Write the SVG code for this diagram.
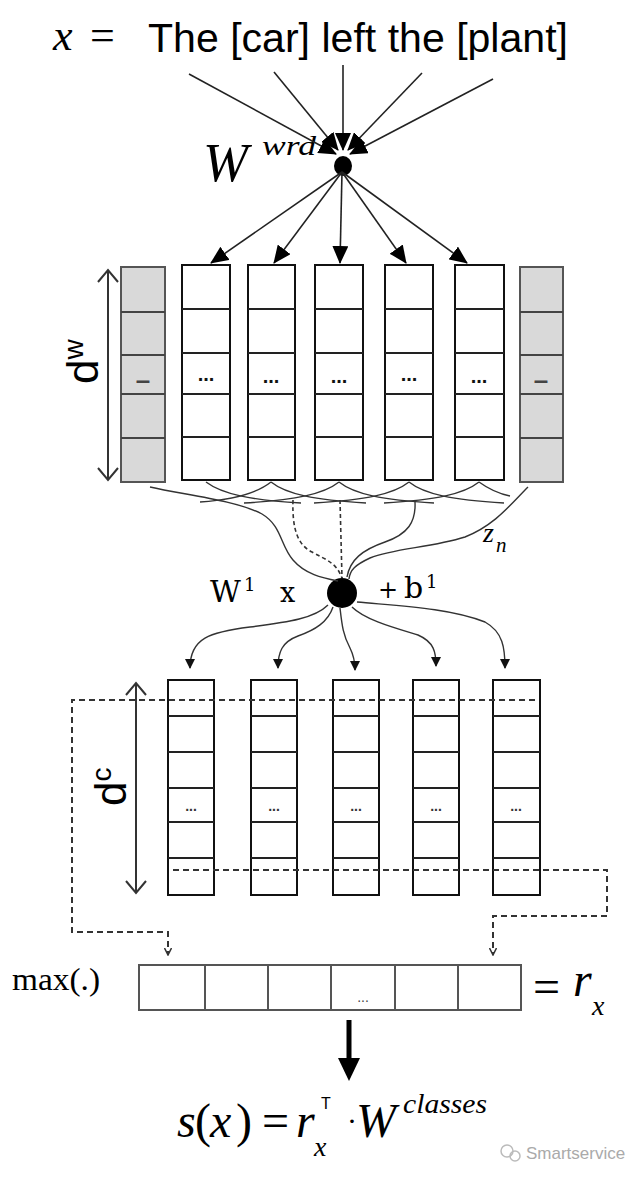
<svg xmlns="http://www.w3.org/2000/svg" width="640" height="1179" viewBox="0 0 640 1179">
<style>
.cw{fill:#fff;stroke:#111;stroke-width:2}
.cg{fill:#d9d9d9;stroke:#555;stroke-width:2}
.rl{stroke:#222;stroke-width:2}
.rg{stroke:#444;stroke-width:2}
.ln{fill:none;stroke:#222;stroke-width:1.6}
.cv{fill:none;stroke:#333;stroke-width:1.4}
.dsh{fill:none;stroke:#333;stroke-width:1.6;stroke-dasharray:4 3}
.dl{fill:none;stroke:#333;stroke-width:2;stroke-dasharray:6 4}
.serif{font-family:"Liberation Serif","Times New Roman",serif}
.sans{font-family:"Liberation Sans",Arial,sans-serif}
.dj{font-family:"DejaVu Serif","Liberation Serif",serif}
.dots{font-family:"Liberation Sans",Arial,sans-serif;font-weight:bold;font-size:20px;text-anchor:middle;fill:#111}
.dash{font-family:"Liberation Sans",Arial,sans-serif;font-weight:bold;font-size:26px;text-anchor:middle;fill:#444}
.dots2{font-family:"Liberation Sans",Arial,sans-serif;font-weight:bold;font-size:14px;text-anchor:middle;fill:#333}
</style>
<defs>
<marker id="big" markerUnits="userSpaceOnUse" markerWidth="18" markerHeight="16" refX="17" refY="8" orient="auto"><path d="M0,0 L18,8 L0,16 Z" fill="#000"/></marker>
<marker id="sm" markerUnits="userSpaceOnUse" markerWidth="10" markerHeight="10" refX="9" refY="5" orient="auto"><path d="M0,0 L10,5 L0,10 Z" fill="#111"/></marker>
<marker id="tiny" markerUnits="userSpaceOnUse" markerWidth="8" markerHeight="8" refX="7" refY="4" orient="auto"><path d="M0,0.5 L7,4 L0,7.5" fill="none" stroke="#333" stroke-width="1.5"/></marker>
</defs>
<rect width="640" height="1179" fill="#fff"/>

<g id="sentence">
<text x="53" y="50" class="serif" font-style="italic" font-size="44">x</text>
<text x="90" y="50" class="serif" font-size="44">=</text>
<text x="148" y="52" class="sans" font-size="40" textLength="420" lengthAdjust="spacingAndGlyphs">The [car] left the [plant]</text>
</g>

<g id="wwrd">
<ellipse cx="343" cy="166" rx="9" ry="10" fill="#000"/>
<text x="203" y="181" class="serif" font-style="italic" font-size="54">W</text>
<text x="262" y="155" class="serif" font-style="italic" font-size="28" textLength="54" lengthAdjust="spacingAndGlyphs">wrd</text>
</g>

<g id="col0">
<rect class="cg" x="121" y="267" width="44" height="215"/>
<line class="rg" x1="121" y1="312" x2="165" y2="312"/><line class="rg" x1="121" y1="355" x2="165" y2="355"/><line class="rg" x1="121" y1="394" x2="165" y2="394"/><line class="rg" x1="121" y1="438" x2="165" y2="438"/>
<text x="143" y="389" class="dash">–</text>
</g>
<g id="col1">
<rect class="cw" x="182" y="265" width="48" height="215"/>
<line class="rl" x1="182" y1="309" x2="230" y2="309"/><line class="rl" x1="182" y1="353" x2="230" y2="353"/><line class="rl" x1="182" y1="394" x2="230" y2="394"/><line class="rl" x1="182" y1="437" x2="230" y2="437"/>
<text x="206" y="381" class="dots">...</text>
</g>
<g id="col2">
<rect class="cw" x="248" y="265" width="47" height="215"/>
<line class="rl" x1="248" y1="309" x2="295" y2="309"/><line class="rl" x1="248" y1="353" x2="295" y2="353"/><line class="rl" x1="248" y1="394" x2="295" y2="394"/><line class="rl" x1="248" y1="437" x2="295" y2="437"/>
<text x="271" y="383" class="dots">...</text>
</g>
<g id="col3">
<rect class="cw" x="315" y="265" width="48" height="215"/>
<line class="rl" x1="315" y1="309" x2="363" y2="309"/><line class="rl" x1="315" y1="353" x2="363" y2="353"/><line class="rl" x1="315" y1="394" x2="363" y2="394"/><line class="rl" x1="315" y1="437" x2="363" y2="437"/>
<text x="339" y="383" class="dots">...</text>
</g>
<g id="col4">
<rect class="cw" x="385" y="265" width="48" height="215"/>
<line class="rl" x1="385" y1="309" x2="433" y2="309"/><line class="rl" x1="385" y1="353" x2="433" y2="353"/><line class="rl" x1="385" y1="394" x2="433" y2="394"/><line class="rl" x1="385" y1="437" x2="433" y2="437"/>
<text x="409" y="381" class="dots">...</text>
</g>
<g id="col5">
<rect class="cw" x="455" y="265" width="49" height="215"/>
<line class="rl" x1="455" y1="309" x2="504" y2="309"/><line class="rl" x1="455" y1="353" x2="504" y2="353"/><line class="rl" x1="455" y1="394" x2="504" y2="394"/><line class="rl" x1="455" y1="437" x2="504" y2="437"/>
<text x="479" y="383" class="dots">...</text>
</g>
<g id="col6">
<rect class="cg" x="520" y="267" width="43" height="215"/>
<line class="rg" x1="520" y1="312" x2="563" y2="312"/><line class="rg" x1="520" y1="355" x2="563" y2="355"/><line class="rg" x1="520" y1="394" x2="563" y2="394"/><line class="rg" x1="520" y1="438" x2="563" y2="438"/>
<text x="541" y="389" class="dash">–</text>
</g>

<g id="dw-label">
<text transform="translate(98,384) rotate(-90)" class="sans" font-size="44">d<tspan dy="-15" font-size="28">w</tspan></text>
</g>

<g id="zn-label">
<text x="483" y="542" class="serif" font-style="italic" font-size="28">z</text>
<text x="496" y="552" class="serif" font-style="italic" font-size="21">n</text>
</g>

<g id="conv-node">
<circle cx="342" cy="593" r="15" fill="#000"/>
<text x="210" y="602" class="dj" font-size="30">W</text>
<text x="244" y="591" class="dj" font-size="18">1</text>
<text x="280" y="602" class="dj" font-size="27">x</text>
<text x="378" y="598" class="dj" font-size="24">+</text>
<text x="404" y="598" class="dj" font-size="30">b</text>
<text x="426" y="588" class="dj" font-size="18">1</text>
</g>

<g id="conv1">
<rect class="cw" x="168" y="680" width="46" height="215"/>
<line class="rl" x1="168" y1="716" x2="214" y2="716"/><line class="rl" x1="168" y1="752" x2="214" y2="752"/><line class="rl" x1="168" y1="788" x2="214" y2="788"/><line class="rl" x1="168" y1="822" x2="214" y2="822"/><line class="rl" x1="168" y1="858" x2="214" y2="858"/>
<text x="191" y="811" class="dots2">...</text>
</g>
<g id="conv2">
<rect class="cw" x="251" y="680" width="46" height="215"/>
<line class="rl" x1="251" y1="716" x2="297" y2="716"/><line class="rl" x1="251" y1="752" x2="297" y2="752"/><line class="rl" x1="251" y1="788" x2="297" y2="788"/><line class="rl" x1="251" y1="822" x2="297" y2="822"/><line class="rl" x1="251" y1="858" x2="297" y2="858"/>
<text x="274" y="811" class="dots2">...</text>
</g>
<g id="conv3">
<rect class="cw" x="333" y="680" width="46" height="215"/>
<line class="rl" x1="333" y1="716" x2="379" y2="716"/><line class="rl" x1="333" y1="752" x2="379" y2="752"/><line class="rl" x1="333" y1="788" x2="379" y2="788"/><line class="rl" x1="333" y1="822" x2="379" y2="822"/><line class="rl" x1="333" y1="858" x2="379" y2="858"/>
<text x="356" y="811" class="dots2">...</text>
</g>
<g id="conv4">
<rect class="cw" x="413" y="680" width="46" height="215"/>
<line class="rl" x1="413" y1="716" x2="459" y2="716"/><line class="rl" x1="413" y1="752" x2="459" y2="752"/><line class="rl" x1="413" y1="788" x2="459" y2="788"/><line class="rl" x1="413" y1="822" x2="459" y2="822"/><line class="rl" x1="413" y1="858" x2="459" y2="858"/>
<text x="436" y="811" class="dots2">...</text>
</g>
<g id="conv5">
<rect class="cw" x="493" y="680" width="47" height="215"/>
<line class="rl" x1="493" y1="716" x2="540" y2="716"/><line class="rl" x1="493" y1="752" x2="540" y2="752"/><line class="rl" x1="493" y1="788" x2="540" y2="788"/><line class="rl" x1="493" y1="822" x2="540" y2="822"/><line class="rl" x1="493" y1="858" x2="540" y2="858"/>
<text x="516" y="811" class="dots2">...</text>
</g>

<g id="dc-label">
<text transform="translate(126,806) rotate(-90)" class="sans" font-size="44">d<tspan dy="-15" font-size="28">c</tspan></text>
</g>

<g id="rx">
<text x="12" y="990" class="serif" font-size="32" textLength="88" lengthAdjust="spacingAndGlyphs">max(.)</text>
<rect x="139" y="965" width="382" height="45" fill="#fff" stroke="#555" stroke-width="2"/>
<g stroke="#555" stroke-width="2">
<line x1="205" y1="965" x2="205" y2="1010"/><line x1="268" y1="965" x2="268" y2="1010"/><line x1="331" y1="965" x2="331" y2="1010"/><line x1="395" y1="965" x2="395" y2="1010"/><line x1="458" y1="965" x2="458" y2="1010"/>
</g>
<text x="363" y="1002" class="sans" font-size="14" text-anchor="middle" fill="#444">...</text>
<text x="533" y="1003" class="serif" font-size="48">=</text>
<text x="573" y="996" class="serif" font-style="italic" font-size="48">r</text>
<text x="592" y="1015" class="serif" font-style="italic" font-size="28">x</text>
</g>

<g id="score">
<text y="1137" class="serif" font-size="48"><tspan x="177" font-style="italic">s</tspan><tspan x="195">(</tspan><tspan x="210" font-style="italic">x</tspan><tspan x="236">)</tspan><tspan x="262">=</tspan><tspan x="296" font-style="italic">r</tspan></text>
<text x="314" y="1156" class="serif" font-style="italic" font-size="28">x</text>
<text x="321" y="1109" class="sans" font-size="16">T</text>
<text x="347" y="1131" class="serif" font-size="30">·</text>
<text x="356" y="1137" class="serif" font-style="italic" font-size="48">W</text>
<text x="403" y="1113" class="serif" font-style="italic" font-size="28" textLength="84" lengthAdjust="spacingAndGlyphs">classes</text>
</g>

<g id="watermark" fill="#aaa">
<circle cx="507" cy="1151" r="6" fill="none" stroke="#bbb" stroke-width="1.5"/>
<circle cx="515" cy="1156" r="5" fill="none" stroke="#bbb" stroke-width="1.5"/>
<text x="526" y="1159" class="sans" font-size="17">Smartservice</text>
</g>

<g id="connectors">
<line class="ln" x1="189" y1="74" x2="336" y2="154" marker-end="url(#big)"/>
<line class="ln" x1="274" y1="72" x2="338" y2="150" marker-end="url(#big)"/>
<line class="ln" x1="343" y1="65" x2="343" y2="150" marker-end="url(#big)"/>
<line class="ln" x1="422" y1="73" x2="348" y2="150" marker-end="url(#big)"/>
<line class="ln" x1="493" y1="79" x2="350" y2="154" marker-end="url(#big)"/>
<line class="ln" x1="342" y1="172" x2="211" y2="263" marker-end="url(#big)"/>
<line class="ln" x1="342" y1="172" x2="274" y2="263" marker-end="url(#big)"/>
<line class="ln" x1="342" y1="172" x2="340" y2="263" marker-end="url(#big)"/>
<line class="ln" x1="342" y1="172" x2="406" y2="263" marker-end="url(#big)"/>
<line class="ln" x1="342" y1="172" x2="467" y2="263" marker-end="url(#big)"/>

<path class="cv" d="M206,482 C222,494 250,500 301,503"/>
<path class="cv" d="M271,482 C256,494 228,500 200,502"/>
<path class="cv" d="M271,482 C286,494 314,500 366,503"/>
<path class="cv" d="M339,482 C324,494 296,500 244,503"/>
<path class="cv" d="M339,482 C354,494 382,500 434,503"/>
<path class="cv" d="M409,482 C394,494 366,500 314,503"/>
<path class="cv" d="M409,482 C424,494 452,500 504,503"/>
<path class="cv" d="M479,482 C464,494 436,500 384,503"/>
<path class="cv" d="M479,482 C490,490 500,494 510,496"/>
<path class="cv" d="M150,487 C185,495 235,500 262,514 C282,526 280,545 293,560 C305,574 322,578 338,581"/>
<path class="dsh" d="M293,500 C292,530 298,545 312,552 C326,560 336,562 342,578"/>
<path class="dsh" d="M340,500 L342,578"/>
<path class="cv" d="M415,502 C416,522 408,534 385,542 C362,550 350,560 347,577"/>
<path class="cv" d="M528,487 C510,505 495,525 465,537 C430,548 395,548 370,558 C355,565 350,570 349,579"/>
<path class="cv" d="M328,605 C315,618 290,622 250,627 C210,632 190,638 190,668" marker-end="url(#sm)"/>
<path class="cv" d="M333,607 C328,622 315,630 298,636 C282,642 278,652 278,668" marker-end="url(#sm)"/>
<path class="cv" d="M340,608 C342,625 343,635 350,648 C354,656 355,662 355,670" marker-end="url(#sm)"/>
<path class="cv" d="M352,607 C365,620 395,628 418,635 C434,642 436,652 436,666" marker-end="url(#sm)"/>
<path class="cv" d="M357,602 C400,606 450,608 485,622 C503,632 505,648 505,668" marker-end="url(#sm)"/>

<path class="dl" d="M535,700 L72,700 L72,932 L168,932 L168,955" marker-end="url(#tiny)"/>
<path class="dl" d="M173,870 L607,870 L607,916 L493,916 L493,955" marker-end="url(#tiny)"/>

<line x1="349" y1="1020" x2="349" y2="1062" stroke="#000" stroke-width="5"/>
<path d="M338,1058 L360,1058 L349,1081 Z" fill="#000"/>

<g fill="none" stroke="#333" stroke-width="2">
<line x1="108" y1="270" x2="108" y2="480"/>
<polyline points="98,282 108,270 118,282"/>
<polyline points="98,468 108,480 118,468"/>
<line x1="136" y1="683" x2="136" y2="893"/>
<polyline points="126,695 136,683 146,695"/>
<polyline points="126,881 136,893 146,881"/>
</g>
</g>
</svg>
